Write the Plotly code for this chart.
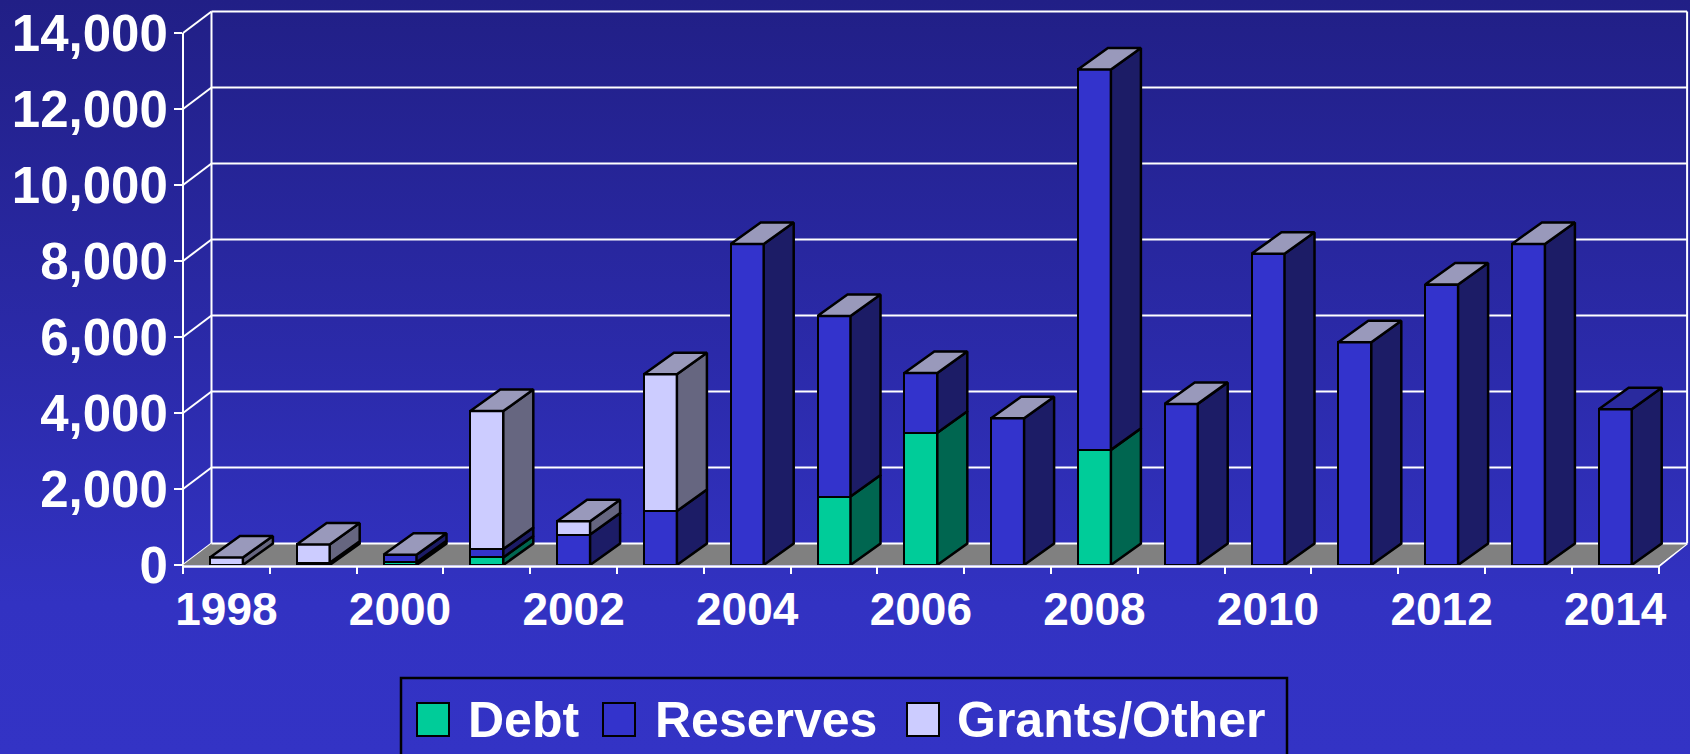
import base64
import plotly.graph_objects as go

# ---------------- data ----------------
years = list(range(1998, 2015))
debt = [0, 60, 70, 200, 0, 0, 0, 1800, 3480, 0, 3030, 0, 0, 0, 0, 0, 0]
reserves = [0, 0, 200, 220, 800, 1420, 8450, 4750, 1570, 3860, 10010, 4240, 8190, 5860, 7380, 8450, 4100]
grants = [200, 480, 0, 3630, 350, 3600, 0, 0, 0, 0, 0, 0, 0, 0, 0, 0, 0]
series_names = ["Debt", "Reserves", "Grants/Other"]
y_tick_values = list(range(0, 14001, 2000))
x_label_years = years[::2]

# ---------------- styles ----------------
FONT = "Liberation Sans, Arial, Helvetica, sans-serif"
front_colors = ["#00CC99", "#3333CC", "#CCCCFF"]
side_colors = ["#006650", "#1C1C66", "#666680"]
top_colors = ["#9999BB"] * 16 + ["#2A2A9E"]
FLOOR = "#808080"
OUTLINE = "black"

W, H = 1690, 754
ML, MR, MT, MB = 183, 0, 10, 189
plot_w = W - ML - MR
plot_h = H - MT - MB
CAT_PX = 86.8             # pixels per category
VAL_PER_PX = 2000 / 76.0  # value units per pixel
n = len(years)
x_max = plot_w / CAT_PX
y_max = plot_h * VAL_PER_PX

BAR_W = 33 / CAT_PX
DX = 30 / CAT_PX
DY = 21.5 * VAL_PER_PX
WDX = 28.5 / CAT_PX
WDY = 21.5 * VAL_PER_PX


def pxx(px):
    return (px - ML) / plot_w


def pxy(py):
    return (H - MB - py) / plot_h


def dx2p(x):
    return x / x_max


def dy2p(y):
    return y / y_max


fig = go.Figure()

# ---------------- background gradient ----------------
svg = (
    f'<svg xmlns="http://www.w3.org/2000/svg" width="{W}" height="{H}" preserveAspectRatio="none">'
    '<defs><linearGradient id="g" x1="0" y1="0" x2="0" y2="1">'
    '<stop offset="0" stop-color="#211F86"/>'
    '<stop offset="0.8" stop-color="#3232C2"/>'
    '<stop offset="1" stop-color="#3333C5"/>'
    '</linearGradient></defs>'
    f'<rect width="{W}" height="{H}" fill="url(#g)"/></svg>'
)
src = "data:image/svg+xml;base64," + base64.b64encode(svg.encode()).decode()
fig.add_layout_image(dict(source=src, xref="paper", yref="paper",
                          x=-ML / plot_w, y=1 + MT / plot_h,
                          sizex=W / plot_w, sizey=H / plot_h,
                          xanchor="left", yanchor="top", sizing="stretch",
                          layer="below"))

# ---------------- floor / walls / gridlines ----------------
shapes = []
shapes.append(dict(type="path", xref="x", yref="y", layer="below",
                   path=f"M 0,0 L {n},0 L {n + WDX},{WDY} L {WDX},{WDY} Z",
                   fillcolor=FLOOR, line=dict(width=0)))
top_v = y_tick_values[-1]
for v in y_tick_values:
    shapes.append(dict(type="line", xref="x", yref="y", layer="below",
                       x0=WDX, y0=v + WDY, x1=n + WDX, y1=v + WDY,
                       line=dict(color="white", width=2)))
    shapes.append(dict(type="line", xref="paper", yref="paper", layer="below",
                       x0=dx2p(0), y0=dy2p(v), x1=dx2p(WDX), y1=dy2p(v + WDY),
                       line=dict(color="white", width=2)))
# back wall verticals
shapes.append(dict(type="line", xref="x", yref="y", layer="below",
                   x0=WDX, y0=WDY, x1=WDX, y1=top_v + WDY,
                   line=dict(color="white", width=2)))
shapes.append(dict(type="line", xref="x", yref="y", layer="below",
                   x0=n + WDX, y0=WDY, x1=n + WDX, y1=top_v + WDY,
                   line=dict(color="white", width=2)))
# floor right edge
shapes.append(dict(type="line", xref="paper", yref="paper", layer="below",
                   x0=dx2p(n), y0=pxy(H - MB + 1.5), x1=dx2p(n + WDX), y1=dy2p(WDY),
                   line=dict(color="white", width=2)))
# front y axis line
shapes.append(dict(type="line", xref="paper", yref="paper", layer="below",
                   x0=pxx(ML), y0=pxy(H - MB + 1.5), x1=pxx(ML), y1=dy2p(top_v),
                   line=dict(color="white", width=2)))
# front floor line
shapes.append(dict(type="line", xref="paper", yref="paper", layer="above",
                   x0=pxx(ML), y0=pxy(H - MB + 1.5), x1=dx2p(n), y1=pxy(H - MB + 1.5),
                   line=dict(color="white", width=2.5)))

# ---------------- bars ----------------
xc = [i + 0.5 for i in range(n)]
all_series = [debt, reserves, grants]
for name, vals, fc in zip(series_names, all_series, front_colors):
    fig.add_trace(go.Bar(x=xc, y=[v if v else None for v in vals], width=BAR_W, name=name,
                         marker=dict(color=fc, line=dict(color=OUTLINE, width=2.5)),
                         showlegend=False, hoverinfo="skip"))

bottom = [0] * n
for vals, sc in zip(all_series, side_colors):
    xs, ys = [], []
    for i, v in enumerate(vals):
        if v:
            b = bottom[i]
            t = b + v
            xr = xc[i] + BAR_W / 2
            xs += [xr, xr + DX, xr + DX, xr, xr, None]
            ys += [b, b + DY, t + DY, t, b, None]
            bottom[i] = t
    fig.add_trace(go.Scatter(x=xs, y=ys, mode="lines", fill="toself", fillcolor=sc,
                             line=dict(color=OUTLINE, width=2.5), showlegend=False,
                             hoverinfo="skip"))

for tc in sorted(set(top_colors)):
    xs, ys = [], []
    for i in range(n):
        if top_colors[i] != tc:
            continue
        t = bottom[i]
        xl = xc[i] - BAR_W / 2
        xr = xc[i] + BAR_W / 2
        xs += [xl, xl + DX, xr + DX, xr, xl, None]
        ys += [t, t + DY, t + DY, t, t, None]
    fig.add_trace(go.Scatter(x=xs, y=ys, mode="lines", fill="toself", fillcolor=tc,
                             line=dict(color=OUTLINE, width=2.5), showlegend=False,
                             hoverinfo="skip"))

# ---------------- legend (custom) ----------------
shapes.append(dict(type="rect", xref="paper", yref="paper", layer="above",
                   x0=pxx(401), x1=pxx(1287), y0=pxy(678), y1=pxy(780),
                   line=dict(color="black", width=2.5), fillcolor="rgba(0,0,0,0)"))
legend_swatch_x = [417, 603, 907]
legend_text_x = [466, 653, 955]
annotations = []
for name, fc, sx, tx in zip(series_names, front_colors, legend_swatch_x, legend_text_x):
    shapes.append(dict(type="rect", xref="paper", yref="paper", layer="above",
                       x0=pxx(sx), x1=pxx(sx + 32), y0=pxy(703), y1=pxy(736),
                       fillcolor=fc, line=dict(color="black", width=2)))
    annotations.append(dict(xref="paper", yref="paper", x=pxx(tx), y=pxy(720),
                            xanchor="left", yanchor="middle", showarrow=False,
                            text=name,
                            font=dict(family=FONT, size=50, color="white", weight="bold")))

fig.update_layout(
    width=W, height=H,
    margin=dict(l=ML, r=MR, t=MT, b=MB, pad=0, autoexpand=False),
    paper_bgcolor="#2B2BA8", plot_bgcolor="rgba(0,0,0,0)",
    barmode="stack", bargap=0, showlegend=False,
    shapes=shapes, annotations=annotations,
    xaxis=dict(range=[0, x_max], showgrid=False, zeroline=False, showline=False,
               tickmode="array", tickvals=[xc[years.index(y)] for y in x_label_years],
               ticktext=[str(y) for y in x_label_years], ticks="",
               tickfont=dict(family=FONT, size=46, color="white", weight="bold"),
               ticklabelstandoff=13,
               minor=dict(tickmode="array", tickvals=list(range(n + 1)), ticks="outside",
                          ticklen=8, tickwidth=2, tickcolor="white", showgrid=False),
               fixedrange=True),
    yaxis=dict(range=[0, y_max], tickmode="array", tickvals=y_tick_values,
               ticktext=[f"{v:,}" for v in y_tick_values],
               ticks="outside", ticklen=8, tickwidth=2, tickcolor="white",
               showgrid=False, zeroline=False, showline=False,
               tickfont=dict(family=FONT, size=51, color="white", weight="bold"),
               ticklabelstandoff=-4, fixedrange=True),
)

fig.write_html("out.html")
